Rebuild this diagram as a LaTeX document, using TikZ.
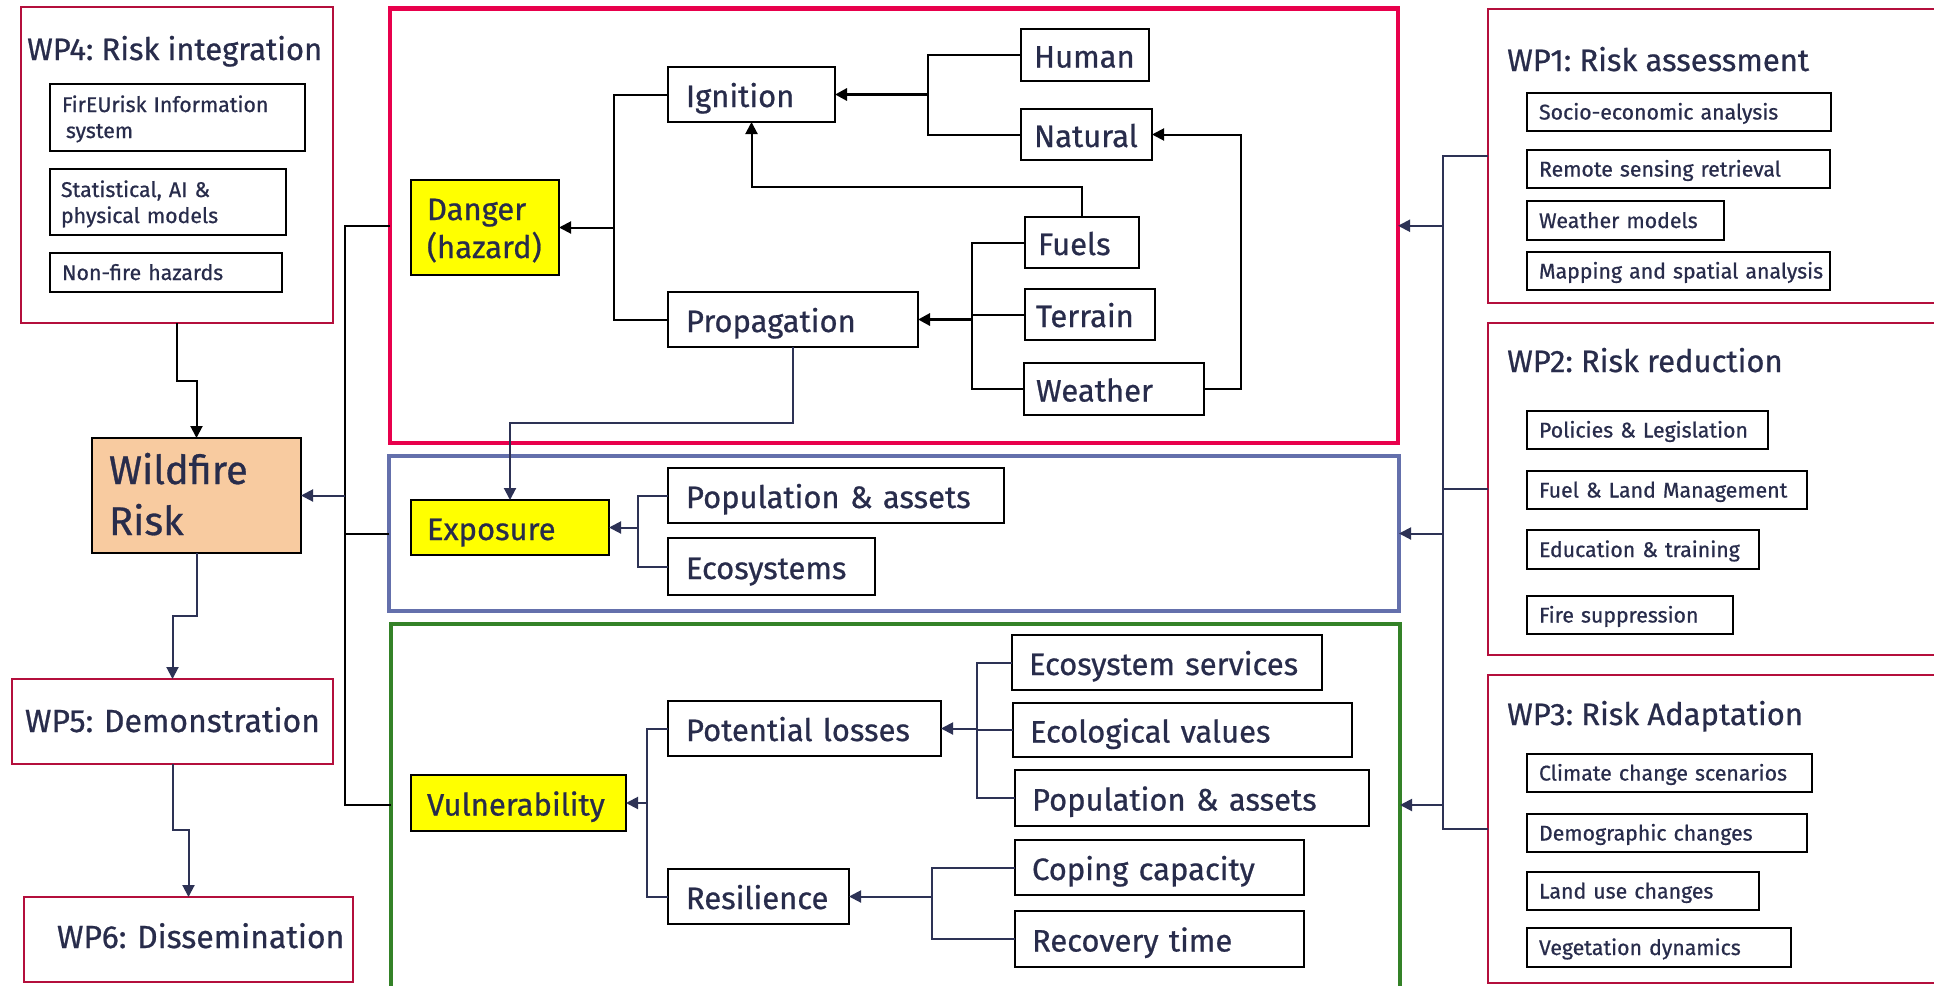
\documentclass[tikz,border=0pt]{standalone}
\usepackage{fontspec}
\setmainfont{Fira Sans}[FakeBold=0.7]
\usetikzlibrary{arrows.meta,calc}
\definecolor{txt}{RGB}{40,44,75}
\definecolor{navy}{RGB}{45,50,85}
\definecolor{dred}{RGB}{232,0,76}
\definecolor{wpred}{RGB}{180,15,60}
\definecolor{gblue}{RGB}{100,112,172}
\definecolor{ggreen}{RGB}{52,130,40}
\definecolor{peach}{RGB}{248,203,160}
\definecolor{hyel}{RGB}{255,255,0}
\newcommand\mkbox[8]{%
  \pgfmathsetmacro\bxw{#4-#2}%
  \pgfmathsetmacro\bxh{#5-#3}%
  \pgfmathsetmacro\bxt{#4-#2-2*#6}%
  \node[#7, anchor=north west, minimum width=\bxw pt, minimum height=\bxh pt,
        text width=\bxt pt, align=left, inner xsep=#6 pt, inner ysep=0pt] (#1) at (#2,#3) {#8};}
\tikzset{
  nbox/.style={draw=black, line width=2pt, fill=white, rectangle, outer sep=0pt, text=txt},
  ybox/.style={nbox, fill=hyel},
  bigt/.style={font=\fontsize{31}{38}\selectfont, text height=25pt, text depth=0pt},
  bigtwo/.style={font=\fontsize{31}{38}\selectfont},
  smallt/.style={font=\fontsize{21.3}{26}\selectfont, text height=15pt, text depth=0pt},
  smalltwo/.style={font=\fontsize{21.3}{26}\selectfont},
  wpbox/.style={draw=wpred, line width=2pt, rectangle, outer sep=0pt, text=txt},
  grpbox/.style={line width=4.5pt, rectangle, outer sep=0pt, inner sep=0pt},
  conn/.style={line width=2pt, draw=black},
  nconn/.style={line width=2pt, draw=navy},
  tconn/.style={line width=3pt, draw=black},
  bconn/.style={line width=2.4pt, draw=navy},
  arr/.style={-{Triangle[length=12pt,width=12pt]}},
  ttl/.style={anchor=base west, inner sep=0pt, text=txt, font=\fontsize{31}{38}\selectfont},
}
\begin{document}
\frenchspacing
\begin{tikzpicture}[x=1pt,y=-1pt]
\useasboundingbox (0,0) rectangle (1934,985);
\clip (0,0) rectangle (1934,985);
\fill[white] (0,0) rectangle (1934,985);

% group boxes
\node[grpbox, draw=dred, anchor=north west, minimum width=1008pt, minimum height=434.5pt] (red) at (390,8.5) {};
\node[grpbox, draw=gblue, anchor=north west, minimum width=1010pt, minimum height=155pt] (blue) at (389,456) {};
\node[grpbox, draw=ggreen, anchor=north west, minimum width=1009pt, minimum height=380pt] (green) at (391,624) {};

% WP boxes
\node[wpbox, anchor=north west, minimum width=312pt, minimum height=316pt] (wp4) at (21,7) {};
\node[ttl] (t4) at (27,60) {WP4: Risk integration};
\node[wpbox, anchor=north west, minimum width=520pt, minimum height=294pt] (wp1) at (1488,9) {};
\node[ttl] (t1) at (1507,71) {WP1: Risk assessment};
\node[wpbox, anchor=north west, minimum width=520pt, minimum height=332pt] (wp2) at (1488,323) {};
\node[ttl] (t2) at (1507,372) {WP2: Risk reduction};
\node[wpbox, anchor=north west, minimum width=520pt, minimum height=308pt] (wp3) at (1488,675) {};
\node[ttl] (t3) at (1507,725) {WP3: Risk Adaptation};

\mkbox{wp5}{12}{679}{333}{764}{13}{wpbox,font=\fontsize{32}{38}\selectfont,text height=21pt,text depth=0pt}{\mbox{WP5: Demonstration}}
\mkbox{wp6}{24}{897}{353}{982}{33}{wpbox,font=\fontsize{32}{38}\selectfont,text height=17pt,text depth=0pt}{\mbox{WP6: Dissemination}}

% WP4 items
\mkbox{fire}{50}{84}{305}{151}{12}{nbox,smalltwo,text height=15pt,text depth=26pt}{\mbox{FirEUrisk Information}\\\mbox{\hspace*{4pt}system}}
\mkbox{stat}{50}{169}{286}{235}{11}{nbox,smalltwo,text height=15pt,text depth=25pt}{\mbox{Statistical, AI \&}\\\mbox{physical models}}
\mkbox{nonfire}{50}{253}{282}{292}{12}{nbox,smallt}{\mbox{Non-fire hazards}}

% WP1 items
\mkbox{socio}{1527}{93}{1831}{131}{12}{nbox,smallt}{\mbox{Socio-economic analysis}}
\mkbox{remote}{1527}{150}{1830}{188}{12}{nbox,smallt}{\mbox{Remote sensing retrieval}}
\mkbox{wmod}{1527}{201}{1724}{240}{12}{nbox,smallt}{\mbox{Weather models}}
\mkbox{mapp}{1527}{252}{1830}{290}{12}{nbox,smallt}{\mbox{Mapping and spatial analysis}}
% WP2 items
\mkbox{polic}{1527}{411}{1768}{449}{12}{nbox,smallt}{\mbox{Policies \& Legislation}}
\mkbox{fuelm}{1527}{471}{1807}{509}{12}{nbox,smallt}{\mbox{Fuel \& Land Management}}
\mkbox{educ}{1527}{530}{1759}{569}{12}{nbox,smallt}{\mbox{Education \& training}}
\mkbox{supp}{1527}{596}{1733}{634}{12}{nbox,smallt}{\mbox{Fire suppression}}
% WP3 items
\mkbox{clim}{1527}{754}{1812}{792}{12}{nbox,smallt}{\mbox{Climate change scenarios}}
\mkbox{demo}{1527}{814}{1807}{852}{12}{nbox,smallt}{\mbox{Demographic changes}}
\mkbox{landu}{1527}{872}{1759}{910}{12}{nbox,smallt}{\mbox{Land use changes}}
\mkbox{veget}{1527}{928}{1791}{967}{12}{nbox,smallt}{\mbox{Vegetation dynamics}}

% Wildfire risk
\mkbox{wild}{92}{438}{301}{553}{17}{nbox,fill=peach,font=\fontsize{40}{51}\selectfont,text height=25pt,text depth=48pt}{Wildfire\\Risk}

% Danger group
\mkbox{danger}{411}{180}{559}{275}{16}{ybox,bigtwo,text height=20pt,text depth=35pt}{Danger\\(hazard)}
\mkbox{ign}{668}{67}{835}{122}{18}{nbox,bigt}{\mbox{Ignition}}
\mkbox{prop}{668}{292}{918}{347}{18}{nbox,bigt}{\mbox{Propagation}}
\mkbox{human}{1021}{29}{1149}{81}{13}{nbox,bigt}{\mbox{Human}}
\mkbox{natural}{1021}{109}{1152}{160}{13}{nbox,bigt}{\mbox{Natural}}
\mkbox{fuels}{1025}{217}{1139}{268}{13}{nbox,bigt}{\mbox{Fuels}}
\mkbox{terrain}{1025}{289}{1155}{340}{11}{nbox,bigt}{\mbox{Terrain}}
\mkbox{weather}{1024}{363}{1204}{415}{12}{nbox,bigt}{\mbox{Weather}}

% Exposure group
\mkbox{expo}{411}{500}{609}{555}{16}{ybox,bigt}{\mbox{Exposure}}
\mkbox{popA}{668}{468}{1004}{523}{18}{nbox,bigt}{\mbox{Population \& assets}}
\mkbox{ecos}{668}{538}{875}{595}{18}{nbox,bigt}{\mbox{Ecosystems}}

% Vulnerability group
\mkbox{vuln}{411}{775}{626}{831}{16}{ybox,bigt}{\mbox{Vulnerability}}
\mkbox{potl}{668}{701}{941}{756}{18}{nbox,bigt}{\mbox{Potential losses}}
\mkbox{resil}{668}{869}{849}{924}{18}{nbox,bigt}{\mbox{Resilience}}
\mkbox{ecoserv}{1012}{635}{1322}{690}{17}{nbox,bigt}{\mbox{Ecosystem services}}
\mkbox{ecoval}{1013}{703}{1352}{757}{17}{nbox,bigt}{\mbox{Ecological values}}
\mkbox{popV}{1015}{770}{1369}{826}{17}{nbox,bigt}{\mbox{Population \& assets}}
\mkbox{coping}{1015}{840}{1304}{895}{17}{nbox,bigt}{\mbox{Coping capacity}}
\mkbox{recov}{1015}{911}{1304}{967}{17}{nbox,bigt}{\mbox{Recovery time}}

% ---- connectors: danger group
\coordinate (dx) at (614,0);
\draw[conn] (ign.west) -| (dx |- prop.west) -- (prop.west);
\draw[conn,arr] (dx |- danger.east) -- (danger.east);
\coordinate (hx) at (928,0);
\draw[conn] (human.west) -| (hx |- natural.west) -- (natural.west);
\draw[tconn,arr] (hx |- ign.east) -- (ign.east);
\coordinate (fy) at (0,187);
\draw[conn,arr] (fuels.north) |- (ign.south |- fy) -- (ign.south);
\coordinate (px) at (972,0);
\draw[conn] (fuels.west) -| (px |- weather.west) -- (weather.west);
\draw[conn] (terrain.west) -- (px |- terrain.west);
\draw[tconn,arr] (px |- prop.east) -- (prop.east);
\coordinate (wx) at (1241,0);
\draw[conn,arr] (weather.east) -| (wx |- natural.east) -- (natural.east);
\coordinate (ey) at (0,423);
\draw[nconn,arr] (prop.south) |- (expo.north |- ey) -- (expo.north);

% exposure group
\coordinate (bx) at (638,0);
\draw[nconn] (popA.west) -| (bx |- ecos.west) -- (ecos.west);
\draw[nconn,arr] (bx |- expo.east) -- (expo.east);

% vulnerability group
\coordinate (vx) at (647,0);
\draw[nconn] (potl.west) -| (vx |- resil.west) -- (resil.west);
\draw[nconn,arr] (vx |- vuln.east) -- (vuln.east);
\coordinate (ppx) at (977,0);
\draw[nconn] (ecoserv.west) -| (ppx |- popV.west) -- (popV.west);
\draw[nconn] (ecoval.west) -- (ppx |- ecoval.west);
\draw[nconn,arr] (ppx |- potl.east) -- (potl.east);
\coordinate (rx) at (932,0);
\draw[nconn] (coping.west) -| (rx |- recov.west) -- (recov.west);
\draw[nconn,arr] (rx |- resil.east) -- (resil.east);

% left chain
\coordinate (k1) at (0,381);
\draw[conn,arr] (wp4.south) |- (wild.north |- k1) -- (wild.north);
\coordinate (k2) at (0,616);
\draw[nconn,arr] (wild.south) |- (wp5.north |- k2) -- (wp5.north);
\coordinate (k3) at (0,830);
\draw[nconn,arr] (wp5.south) |- (wp6.north |- k3) -- (wp6.north);

% left bus
\coordinate (lbx) at (345,0);
\coordinate (gy) at (0,805);
\draw[conn] (red.west) -| (lbx |- gy) -- (green.west |- gy);
\draw[conn] (blue.west) -- (lbx |- blue.west);
\draw[nconn,arr] (lbx |- wild.east) -- (wild.east);

% right bus
\coordinate (rbx) at (1443,0);
\draw[bconn] (wp1.west) -| (rbx |- wp3.west) -- (wp3.west);
\draw[bconn] (wp2.west) -- (rbx |- wp2.west);
\draw[nconn,arr] (rbx |- red.east) -- (red.east);
\draw[nconn,arr] (rbx |- blue.east) -- (blue.east);
\draw[nconn,arr] (rbx |- gy) -- (green.east |- gy);
\end{tikzpicture}
\end{document}
